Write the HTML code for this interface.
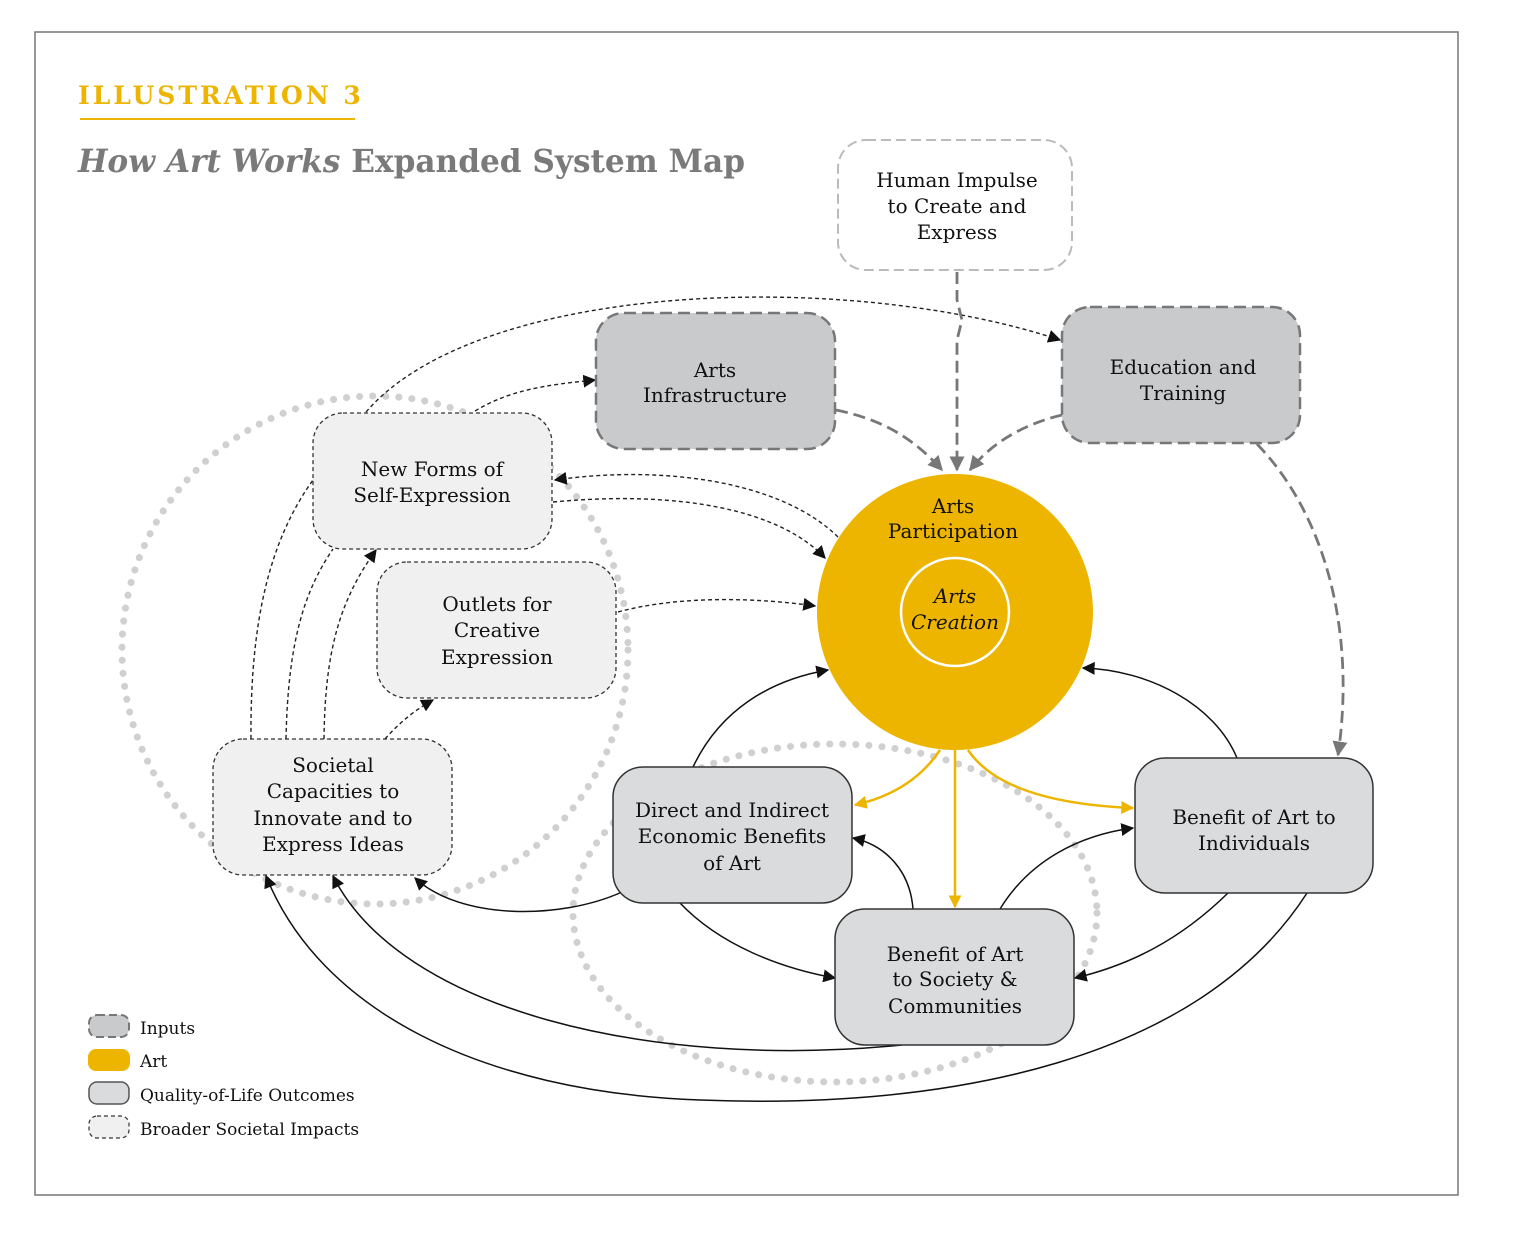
<!DOCTYPE html>
<html><head><meta charset="utf-8"><style>
html,body{margin:0;padding:0;background:#fff;}
svg{display:block;}
text{font-family:"DejaVu Serif","Liberation Serif",serif;fill:#111;}
</style></head><body>
<svg width="1518" height="1236" viewBox="0 0 1518 1236" xmlns="http://www.w3.org/2000/svg">
<defs>
<marker id="ab" viewBox="0 0 10 10" refX="9" refY="5" markerWidth="13" markerHeight="13" orient="auto-start-reverse" markerUnits="userSpaceOnUse"><path d="M0,0 L10,5 L0,10 z" fill="#111"/></marker>
<marker id="ag" viewBox="0 0 10 10" refX="9" refY="5" markerWidth="15" markerHeight="15" orient="auto" markerUnits="userSpaceOnUse"><path d="M0,0 L10,5 L0,10 z" fill="#777"/></marker>
<marker id="ay" viewBox="0 0 10 10" refX="9" refY="5" markerWidth="13" markerHeight="13" orient="auto" markerUnits="userSpaceOnUse"><path d="M0,0 L10,5 L0,10 z" fill="#eeb500"/></marker>
</defs>
<rect x="35" y="32" width="1423" height="1163" fill="#fff" stroke="#777" stroke-width="1.5"/>
<text x="78" y="104" font-size="25" font-weight="bold" style="fill:#eeb500;letter-spacing:3px">ILLUSTRATION 3</text>
<line x1="80" y1="119" x2="355" y2="119" stroke="#eeb500" stroke-width="2"/>
<text x="78" y="172" font-size="32" font-weight="bold" style="fill:#7a7a7a" textLength="667" lengthAdjust="spacingAndGlyphs"><tspan font-style="italic">How Art Works</tspan> Expanded System Map</text>

<ellipse cx="375" cy="650" rx="253" ry="254" fill="none" stroke="#d0d0d0" stroke-width="7" stroke-dasharray="0.1 13" stroke-linecap="round"/>
<ellipse cx="835" cy="913" rx="262" ry="169" fill="none" stroke="#d0d0d0" stroke-width="7" stroke-dasharray="0.1 13" stroke-linecap="round"/>

<g fill="none" stroke="#222" stroke-width="1.4" stroke-dasharray="4 3">
<path d="M366,412 C480,280 850,270 1060,340" marker-end="url(#ab)"/>
<path d="M475,411 C510,390 545,385 595,380" marker-end="url(#ab)"/>
<path d="M838,537 C780,480 660,465 555,480" marker-end="url(#ab)"/>
<path d="M553,502 C680,490 780,510 825,558" marker-end="url(#ab)"/>
<path d="M618,612 C680,595 760,598 815,606" marker-end="url(#ab)"/>
<path d="M385,739 C400,722 415,710 433,700" marker-end="url(#ab)"/>
<path d="M251,739 C250,620 270,540 313,480"/>
<path d="M286,739 C288,640 305,590 333,549"/>
<path d="M324,739 C325,650 340,600 376,550" marker-end="url(#ab)"/>
</g>
<g fill="none" stroke="#777" stroke-width="2.8" stroke-dasharray="12 6">
<path d="M957,272 L957,300 L962,320 L957,340 L957,470" marker-end="url(#ag)"/>
<path d="M836,410 C885,420 915,440 942,470" marker-end="url(#ag)"/>
<path d="M1062,415 C1020,425 990,445 970,470" marker-end="url(#ag)"/>
<path d="M1257,444 C1330,520 1355,640 1338,755" marker-end="url(#ag)"/>
</g>
<g fill="none" stroke="#111" stroke-width="1.5">
<path d="M693,767 C720,710 770,680 828,670" marker-end="url(#ab)"/>
<path d="M1237,758 C1215,705 1150,670 1083,668" marker-end="url(#ab)"/>
<path d="M913,909 C910,870 885,845 853,838" marker-end="url(#ab)"/>
<path d="M1000,909 C1030,860 1080,835 1133,828" marker-end="url(#ab)"/>
<path d="M1228,893 C1180,940 1130,965 1075,978" marker-end="url(#ab)"/>
<path d="M680,903 C720,945 780,968 835,978" marker-end="url(#ab)"/>
<path d="M622,892 C560,920 460,920 415,878" marker-end="url(#ab)"/>
<path d="M902,1045 C650,1070 400,1010 333,876" marker-end="url(#ab)"/>
<path d="M1307,893 C1200,1060 950,1110 700,1100 C480,1092 320,1010 266,876" marker-end="url(#ab)"/>
</g>

<rect x="838" y="140" width="234" height="130" rx="28" fill="#fff" stroke="#bbb" stroke-width="2" stroke-dasharray="10 5"/>
<rect x="596" y="313" width="239" height="136" rx="28" fill="#c9cacc" stroke="#777" stroke-width="2.5" stroke-dasharray="12 6"/>
<rect x="1062" y="307" width="238" height="136" rx="28" fill="#c9cacc" stroke="#777" stroke-width="2.5" stroke-dasharray="12 6"/>
<g fill="#f0f0f0" stroke="#333" stroke-width="1.3" stroke-dasharray="4 3">
<rect x="313" y="413" width="239" height="136" rx="30"/>
<rect x="377" y="562" width="239" height="136" rx="30"/>
<rect x="213" y="739" width="239" height="136" rx="30"/>
</g>
<g fill="#dadbdc" stroke="#333" stroke-width="1.5">
<rect x="613" y="767" width="239" height="136" rx="30"/>
<rect x="1135" y="758" width="238" height="135" rx="30"/>
<rect x="835" y="909" width="239" height="136" rx="30"/>
</g>

<circle cx="955" cy="612" r="138" fill="#eeb500"/>
<circle cx="955" cy="612" r="54" fill="none" stroke="#fff" stroke-width="2.5"/>
<g fill="none" stroke="#eeb500" stroke-width="2.5">
<path d="M940,750 C920,780 890,797 855,805" marker-end="url(#ay)"/>
<path d="M955,750 L955,907" marker-end="url(#ay)"/>
<path d="M968,750 C995,790 1060,805 1133,808" marker-end="url(#ay)"/>
</g>

<g font-size="20" text-anchor="middle">
<text x="957" y="187">Human Impulse</text><text x="957" y="213">to Create and</text><text x="957" y="239">Express</text>
<text x="715" y="377">Arts</text><text x="715" y="402">Infrastructure</text>
<text x="1183" y="374">Education and</text><text x="1183" y="400">Training</text>
<text x="432" y="476">New Forms of</text><text x="432" y="502">Self-Expression</text>
<text x="497" y="611">Outlets for</text><text x="497" y="637">Creative</text><text x="497" y="664">Expression</text>
<text x="333" y="772">Societal</text><text x="333" y="798">Capacities to</text><text x="333" y="825">Innovate and to</text><text x="333" y="851">Express Ideas</text>
<text x="732" y="817">Direct and Indirect</text><text x="732" y="843">Economic Benefits</text><text x="732" y="870">of Art</text>
<text x="1254" y="824">Benefit of Art to</text><text x="1254" y="850">Individuals</text>
<text x="955" y="961">Benefit of Art</text><text x="955" y="986">to Society &amp;</text><text x="955" y="1013">Communities</text>
<text x="953" y="513">Arts</text><text x="953" y="538">Participation</text>
<text x="955" y="603" font-style="italic">Arts</text><text x="955" y="629" font-style="italic">Creation</text>
</g>

<rect x="89" y="1015" width="40" height="22" rx="8" fill="#c9cacc" stroke="#777" stroke-width="2" stroke-dasharray="8 4"/>
<rect x="88" y="1049" width="42" height="22" rx="8" fill="#eeb500"/>
<rect x="89" y="1082" width="40" height="22" rx="8" fill="#dadbdc" stroke="#555" stroke-width="1.5"/>
<rect x="89" y="1116" width="40" height="22" rx="8" fill="#f0f0f0" stroke="#333" stroke-width="1.2" stroke-dasharray="4 3"/>
<g font-size="17">
<text x="140" y="1034">Inputs</text>
<text x="140" y="1067">Art</text>
<text x="140" y="1101">Quality-of-Life Outcomes</text>
<text x="140" y="1135">Broader Societal Impacts</text>
</g>
</svg>
</body></html>
